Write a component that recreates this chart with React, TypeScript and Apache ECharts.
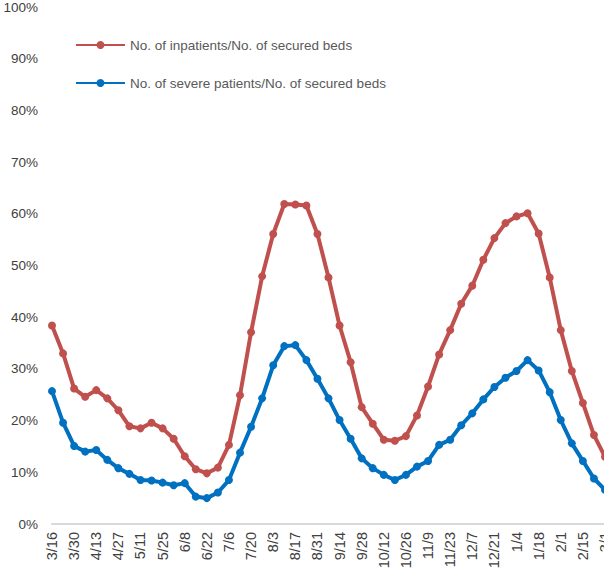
import React, { useEffect, useRef } from "react";
import * as echarts from "echarts";

const weeks = [
  "3/16", "3/23", "3/30", "4/6", "4/13", "4/20", "4/27", "5/4", "5/11", "5/18",
  "5/25", "6/1", "6/8", "6/15", "6/22", "6/29", "7/6", "7/13", "7/20", "7/27",
  "8/3", "8/10", "8/17", "8/24", "8/31", "9/7", "9/14", "9/21", "9/28", "10/5",
  "10/12", "10/19", "10/26", "11/2", "11/9", "11/16", "11/23", "11/30", "12/7", "12/14",
  "12/21", "12/28", "1/4", "1/11", "1/18", "1/25", "2/1", "2/8", "2/15", "2/22",
  "3/1",
];

const inpatients = [
  38.4, 33.0, 26.2, 24.6, 25.9, 24.3, 22.0, 18.9, 18.5, 19.6,
  18.5, 16.5, 13.1, 10.6, 9.8, 10.9, 15.3, 24.9, 37.1, 47.9,
  56.1, 61.9, 61.8, 61.6, 56.1, 47.7, 38.4, 31.3, 22.6, 19.4,
  16.3, 16.1, 17.0, 21.0, 26.6, 32.8, 37.5, 42.6, 46.1, 51.1,
  55.3, 58.2, 59.5, 60.1, 56.2, 47.7, 37.5, 29.6, 23.4, 17.2,
  13.0,
];

const severe = [
  25.7, 19.6, 15.1, 14.0, 14.3, 12.4, 10.8, 9.7, 8.5, 8.4,
  8.0, 7.5, 7.9, 5.3, 5.0, 6.1, 8.5, 13.8, 18.8, 24.3,
  30.7, 34.4, 34.6, 31.7, 28.1, 24.3, 20.1, 16.5, 12.7, 10.8,
  9.5, 8.5, 9.5, 11.1, 12.2, 15.3, 16.3, 19.1, 21.4, 24.1,
  26.5, 28.3, 29.6, 31.7, 29.7, 25.5, 20.1, 15.6, 12.2, 8.8,
  6.6,
];

const seriesNames = [
  "No. of inpatients/No. of secured beds",
  "No. of severe patients/No. of secured beds",
];

const RED = "#C0504D";
const BLUE = "#0070C0";

export default function App() {
  const ref = useRef<HTMLDivElement>(null);

  useEffect(() => {
    if (!ref.current) return;
    const chart = echarts.init(ref.current, null, { renderer: "svg" });
    chart.setOption({
      animation: false,
      backgroundColor: "#ffffff",
      textStyle: { fontFamily: "Liberation Sans, Arial, sans-serif" },
      grid: { left: 52, right: 35, top: 6, bottom: 52 },
      legend: {
        orient: "vertical",
        left: 75,
        top: 38,
        padding: 0,
        itemWidth: 49,
        itemHeight: 10,
        itemGap: 24,
        textStyle: { color: "#595959", fontSize: 13.5 },
        data: seriesNames,
      },
      xAxis: {
        type: "category",
        data: weeks,
        boundaryGap: false,
        axisLine: { lineStyle: { color: "#d9d9d9", width: 2 } },
        axisTick: { show: false },
        axisLabel: {
          interval: 1,
          rotate: 90,
          color: "#404040",
          fontSize: 14.5,
          margin: 8,
        },
        splitLine: { show: false },
      },
      yAxis: {
        type: "value",
        min: 0,
        max: 100,
        interval: 10,
        axisLine: { show: false },
        axisTick: { show: false },
        splitLine: { show: false },
        axisLabel: {
          formatter: "{value}%",
          color: "#404040",
          fontSize: 13.5,
          margin: 14,
        },
      },
      series: [
        {
          name: seriesNames[0],
          type: "line",
          data: inpatients,
          symbol: "circle",
          symbolSize: 8,
          showAllSymbol: true,
          lineStyle: { color: RED, width: 4 },
          itemStyle: { color: RED },
        },
        {
          name: seriesNames[1],
          type: "line",
          data: severe,
          symbol: "circle",
          symbolSize: 8,
          showAllSymbol: true,
          lineStyle: { color: BLUE, width: 4 },
          itemStyle: { color: BLUE },
        },
      ],
    });
    return () => chart.dispose();
  }, []);

  return (
    <div
      style={{
        position: "fixed",
        left: 0,
        top: 0,
        width: 604,
        height: 576,
        overflow: "hidden",
        background: "#fff",
      }}
    >
      <div ref={ref} style={{ width: 640, height: 576 }} />
    </div>
  );
}
